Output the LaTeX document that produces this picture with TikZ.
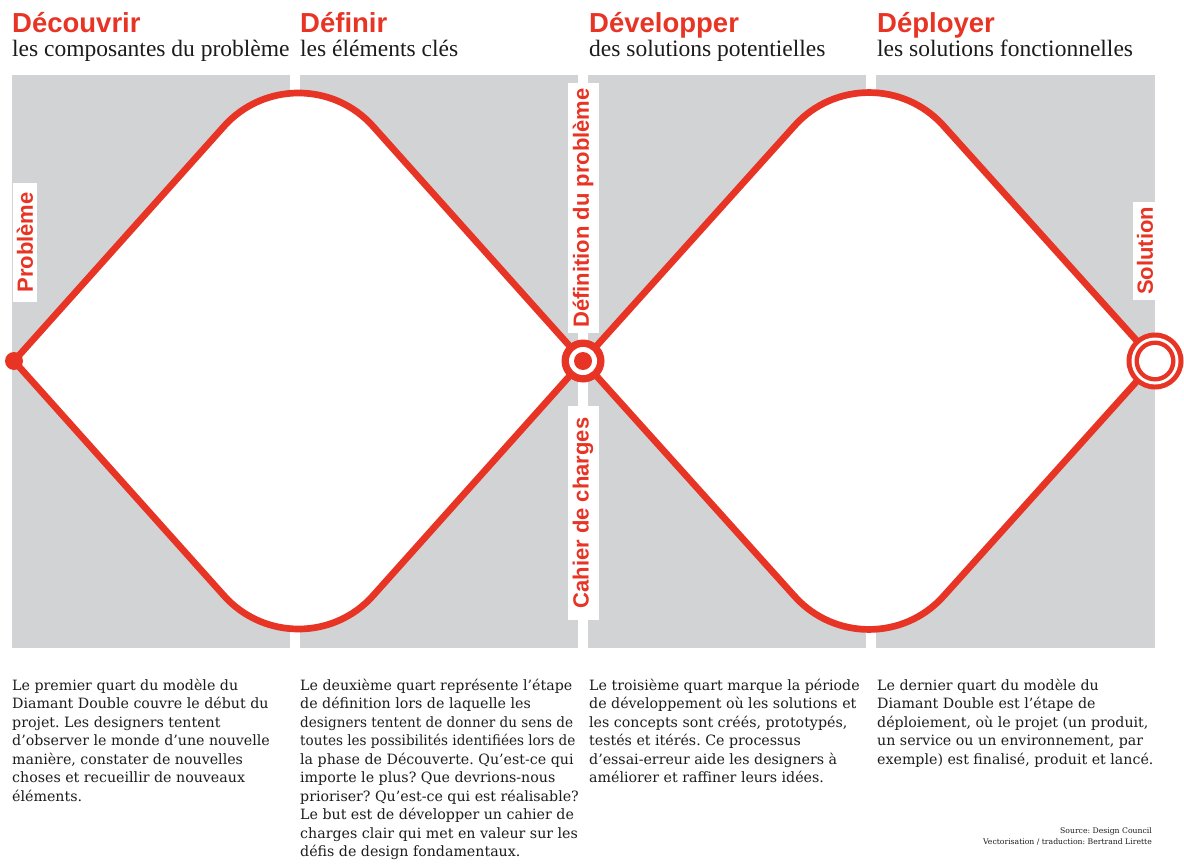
\documentclass[tikz,border=0pt]{standalone}
\usepackage{fontspec}
\newfontfamily\headfont{Liberation Sans}
\newfontfamily\subfont{Liberation Serif}
\newfontfamily\bodyfont{DejaVu Serif}
\newfontfamily\bodynarrow{DejaVu Serif}[FakeStretch=0.955]
\definecolor{dcred}{RGB}{232,52,36}
\definecolor{panelgray}{RGB}{209,211,212}
\definecolor{ink}{RGB}{30,27,28}
\frenchspacing
\tikzset{
  heading/.style={anchor=base west, inner sep=0pt, text=dcred, font=\headfont\bfseries\fontsize{27.5}{30}\selectfont},
  subtitle/.style={anchor=base west, inner sep=0pt, text=ink, font=\subfont\fontsize{23.5}{26}\selectfont},
  bodytext/.style={anchor=base west, inner sep=0pt, align=left, text=ink, font=\bodyfont\frenchspacing\fontsize{14.2}{18.5}\selectfont},
  footnotetext/.style={anchor=base east, inner sep=0pt, align=right, text=ink, font=\bodyfont\fontsize{7.7}{11}\selectfont},
  vlabel/.style={fill=white, rotate=90, inner sep=0pt, text=dcred, font=\headfont\bfseries\fontsize{22}{24}\selectfont},
  panel/.style={fill=panelgray},
  diamondline/.style={draw=dcred, line width=6.7pt, line join=round},
}
\begin{document}
\begin{tikzpicture}[x=1pt,y=-1pt]
\useasboundingbox[fill=white] (0,0) rectangle (1184,864);

% gray panels
\fill[panel] (12,75) rectangle (290,648);
\fill[panel] (300,75) rectangle (578,648);
\fill[panel] (588,75) rectangle (866,648);
\fill[panel] (876,75) rectangle (1155,648);

% diamond key points
\coordinate (L1) at (14,361);
\coordinate (R1) at (583,361);
\coordinate (R2) at (1155,361);

% diamond 1
\path[fill=white, diamondline] (L1) -- (224,126.3) .. controls (263.7,81.9) and (333.3,81.9) .. (373,126.3)
  -- (R1) -- (373,595.7) .. controls (333.3,640.1) and (263.7,640.1) .. (224,595.7) -- cycle;
% diamond 2
\path[fill=white, diamondline] (R1) -- (794.6,125.7) .. controls (834.3,81.5) and (903.7,81.5) .. (943.4,125.7)
  -- (R2) -- (943.4,596.3) .. controls (903.7,640.5) and (834.3,640.5) .. (794.6,596.3) -- cycle;

% symbols
\fill[dcred] (L1) circle[radius=9];
\fill[dcred] (R1) circle[radius=21.5];
\fill[white] (R1) circle[radius=14];
\fill[dcred] (R1) circle[radius=9];
\fill[dcred] (R2) circle[radius=28.5];
\fill[white] (R2) circle[radius=23.5];
\fill[dcred] (R2) circle[radius=20.5];
\fill[white] (R2) circle[radius=16];

% vertical labels
\node[vlabel, minimum width=119, minimum height=24] (probleme) at (25,242.5) {Problème};
\node[vlabel, minimum width=250, minimum height=31] (definition) at (583,208) {Définition du problème};
\node[vlabel, minimum width=214, minimum height=31] (cahier) at (583,513) {Cahier de charges};
\node[vlabel, minimum width=98, minimum height=24] (solution) at (1145,251) {Solution};

% headings
\node[heading] (h1) at (12,33) {Découvrir};
\node[heading] (h2) at (300,33) {Définir};
\node[heading] (h3) at (589,33) {Développer};
\node[heading] (h4) at (877,33) {Déployer};
\node[subtitle] (s1) at (12,57) {les composantes du problème};
\node[subtitle] (s2) at (300,57) {les éléments clés};
\node[subtitle] (s3) at (589,57) {des solutions potentielles};
\node[subtitle] (s4) at (877,57) {les solutions fonctionnelles};

% body texts (anchor = baseline of last line)
\node[bodytext] (t1) at (12,801) {Le premier quart du modèle du\\
Diamant Double couvre le début du\\
projet. Les designers tentent\\
d’observer le monde d’une nouvelle\\
manière, constater de nouvelles\\
choses et recueillir de nouveaux\\
éléments.};
\node[bodytext] (t2) at (300,856.5) {Le deuxième quart représente l’étape\\
de définition lors de laquelle les\\
{\bodynarrow designers tentent de donner du sens de}\\
{\bodynarrow toutes les possibilités identifiées lors de}\\
la phase de Découverte. Qu’est-ce qui\\
importe le plus? Que devrions-nous\\
prioriser? Qu’est-ce qui est réalisable?\\
Le but est de développer un cahier de\\
charges clair qui met en valeur sur les\\
défis de design fondamentaux.};
\node[bodytext] (t3) at (589,782.5) {Le troisième quart marque la période\\
de développement où les solutions et\\
les concepts sont créés, prototypés,\\
testés et itérés. Ce processus\\
d’essai-erreur aide les designers à\\
améliorer et raffiner leurs idées.};
\node[bodytext] (t4) at (877,764) {Le dernier quart du modèle du\\
Diamant Double est l’étape de\\
déploiement, où le projet (un produit,\\
un service ou un environnement, par\\
exemple) est finalisé, produit et lancé.};

% footer
\node[footnotetext] (src) at (1152,844) {Source: Design Council\\Vectorisation / traduction: Bertrand Lirette};
\end{tikzpicture}
\end{document}
